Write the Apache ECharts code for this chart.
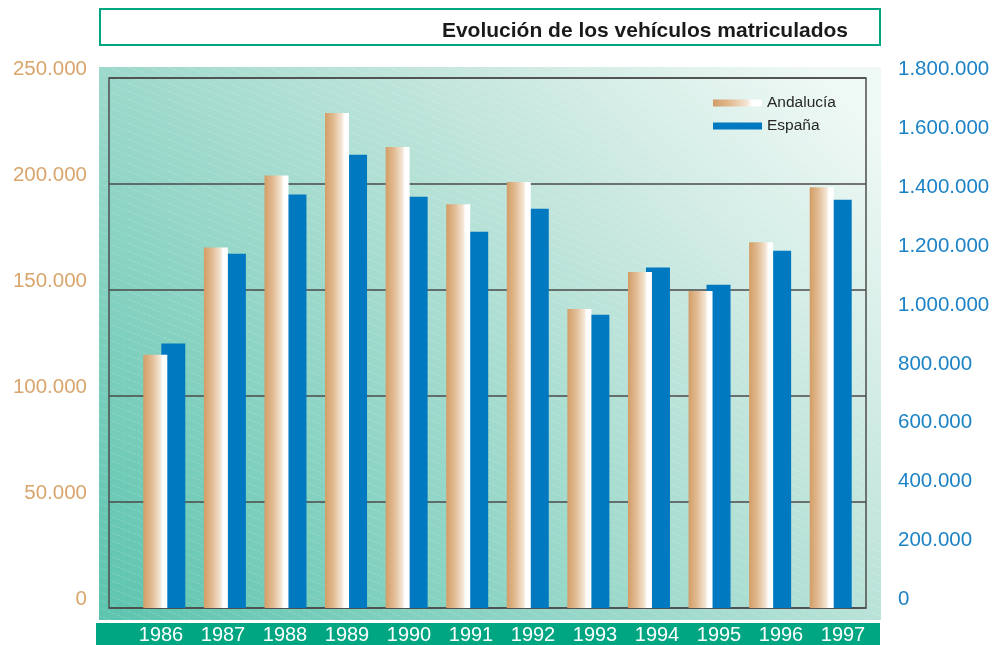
<!DOCTYPE html>
<html>
<head>
<meta charset="utf-8">
<script src="https://cdn.jsdelivr.net/npm/echarts@6/dist/echarts.min.js"></script>
<style>
  html, body { margin: 0; padding: 0; background: #ffffff; }
  #chart { width: 996px; height: 645px; }
</style>
</head>
<body>
<div id="chart"></div>
<script>
// Vehículos matriculados, 1986-1997
const years = ['1986', '1987', '1988', '1989', '1990', '1991', '1992', '1993', '1994', '1995', '1996', '1997'];
const andalucia = [119500, 170000, 204000, 233500, 217500, 190500, 201000, 141000, 158500, 149500, 172500, 198500];
const espana = [898000, 1203000, 1404000, 1539500, 1397000, 1278000, 1356000, 996000, 1156000, 1098000, 1213500, 1386500];

// Scales of the two value axes
const leftMax = 250000, leftStep = 50000;
const rightMax = 1800000, rightStep = 200000;

const titleText = 'Evolución de los vehículos matriculados';
const seriesNames = ['Andalucía', 'España'];

const FONT = '"Liberation Sans", Arial, Helvetica, sans-serif';
const GREEN = '#00a682';
const BLUE = '#0079c1';
const TAN = '#d9a56c';
const AXIS_BLUE = '#1b82c5';

function dots(v) {
  return String(v).replace(/\B(?=(\d{3})+(?!\d))/g, '.');
}

// faint dashed diagonal hatching over the panel background
function hatchTile() {
  const c = document.createElement('canvas');
  c.width = 20; c.height = 8;
  const g = c.getContext('2d');
  g.strokeStyle = 'rgba(255,255,255,0.2)';
  g.lineWidth = 1;
  g.setLineDash([3, 2]);
  g.beginPath();
  g.moveTo(-20, -8); g.lineTo(40, 16);
  g.stroke();
  return c;
}

const andaluciaFill = new echarts.graphic.LinearGradient(0, 0, 1, 0, [
  { offset: 0, color: '#d39d66' },
  { offset: 0.35, color: '#e1bb92' },
  { offset: 0.7, color: '#f4e5d5' },
  { offset: 0.8, color: '#ffffff' },
  { offset: 1, color: '#ffffff' }
]);

const chart = echarts.init(document.getElementById('chart'), null, { renderer: 'canvas' });

chart.setOption({
  animation: false,
  textStyle: { fontFamily: FONT },
  graphic: [
    {
      type: 'rect', z: -3,
      shape: { x: 99, y: 67, width: 782, height: 553 },
      style: {
        fill: new echarts.graphic.LinearGradient(0, 1, 0.82, -0.13, [
          { offset: 0, color: '#5cc4ae' },
          { offset: 0.48, color: '#a3dbce' },
          { offset: 0.7, color: '#c4e6dd' },
          { offset: 1, color: '#eef8f5' }
        ])
      }
    },
    {
      type: 'rect', z: -2,
      shape: { x: 99, y: 67, width: 782, height: 553 },
      style: { fill: { image: hatchTile(), repeat: 'repeat' } }
    },
    {
      type: 'rect', z: -3,
      shape: { x: 100, y: 9, width: 780, height: 36 },
      style: { fill: '#ffffff', stroke: GREEN, lineWidth: 2 }
    },
    {
      type: 'text', z: -1,
      style: {
        x: 848, y: 31, text: titleText,
        align: 'right', verticalAlign: 'middle',
        font: 'bold 21px ' + FONT, fill: '#1a1a1a'
      }
    },
    {
      type: 'rect', z: -3,
      shape: { x: 96, y: 623, width: 784, height: 22 },
      style: { fill: GREEN }
    }
  ],
  legend: {
    data: seriesNames,
    orient: 'vertical',
    left: 708, top: 90,
    itemWidth: 49, itemHeight: 7, itemGap: 7,
    icon: 'rect',
    textStyle: { fontSize: 15.5, color: '#262626', fontFamily: FONT }
  },
  grid: [
    // frame and reference lines
    { left: 109, right: 130, top: 78, bottom: 37, show: true, borderColor: '#4d4d4d', borderWidth: 1.5, backgroundColor: 'transparent' },
    // bars
    { left: 134, right: 135, top: 78, bottom: 37 },
    // year labels in the band
    { left: 130, right: 122, top: 78, bottom: 37 }
  ],
  xAxis: [
    { gridIndex: 0, type: 'value', show: false, min: 0, max: 1 },
    { gridIndex: 1, type: 'category', data: years, show: false },
    {
      gridIndex: 2, type: 'category', data: years,
      axisLine: { show: false }, axisTick: { show: false },
      axisLabel: { color: '#ffffff', fontSize: 20, margin: 18, fontFamily: FONT }
    }
  ],
  yAxis: [
    {
      gridIndex: 0, type: 'value', min: 0, max: leftMax, interval: leftStep, position: 'left',
      axisLine: { show: false }, axisTick: { show: false },
      splitLine: { lineStyle: { color: '#4a4a4a', width: 1.5 } },
      axisLabel: { color: TAN, fontSize: 20.5, margin: 22, fontFamily: FONT, verticalAlign: 'bottom', lineHeight: 17, formatter: dots }
    },
    {
      gridIndex: 0, type: 'value', min: 0, max: rightMax, interval: rightStep, position: 'right',
      axisLine: { show: false }, axisTick: { show: false }, splitLine: { show: false },
      axisLabel: { color: AXIS_BLUE, fontSize: 20.5, margin: 32, fontFamily: FONT, verticalAlign: 'bottom', lineHeight: 17, formatter: dots }
    },
    { gridIndex: 1, type: 'value', min: 0, max: leftMax, show: false },
    { gridIndex: 1, type: 'value', min: 0, max: rightMax, show: false },
    { gridIndex: 2, type: 'value', min: 0, max: 1, show: false }
  ],
  series: [
    {
      name: seriesNames[0], type: 'bar', xAxisIndex: 1, yAxisIndex: 2,
      data: andalucia, barWidth: 24, barGap: '-25%', z: 3,
      itemStyle: { color: andaluciaFill }
    },
    {
      name: seriesNames[1], type: 'bar', xAxisIndex: 1, yAxisIndex: 3,
      data: espana, barWidth: 24, barGap: '-25%', z: 2,
      itemStyle: { color: BLUE }
    }
  ]
});
</script>
</body>
</html>
